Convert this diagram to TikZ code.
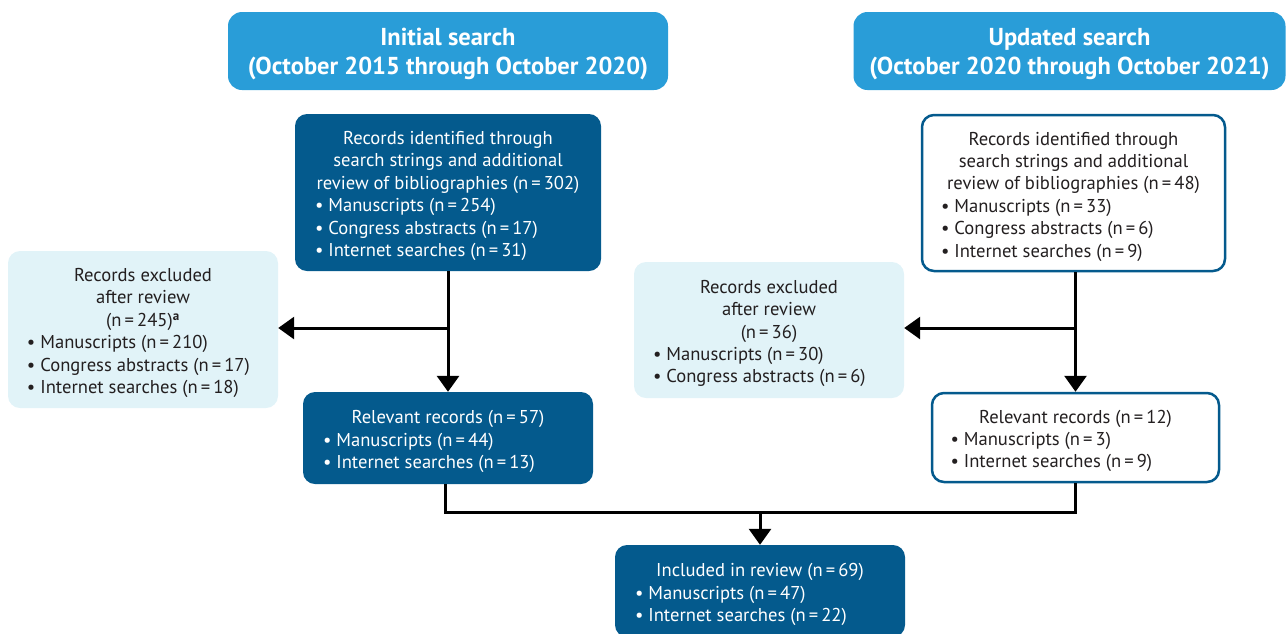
\documentclass[tikz,border=0pt]{standalone}
\usepackage{fontspec}
\setmainfont{PT Sans}
\usetikzlibrary{arrows.meta}
\definecolor{hdrblue}{HTML}{299DD8}
\definecolor{darkblue}{HTML}{045A8D}
\definecolor{paleblue}{HTML}{E1F3F8}
\definecolor{inkgray}{HTML}{231F20}
\tikzset{
  box/.style={rounded corners=12pt, inner sep=0pt, align=left,
    font=\fontsize{18.6}{22.4}\selectfont},
  darkbox/.style={box, fill=darkblue, text=white},
  palebox/.style={box, fill=paleblue, text=inkgray},
  linebox/.style={box, fill=white, draw=darkblue, line width=2.5pt, text=inkgray},
  hdrbox/.style={rounded corners=14pt, fill=hdrblue, text=white, inner sep=0pt,
    font=\fontsize{24.5}{29}\selectfont\bfseries},
  arr/.style={line width=3pt, -{Triangle[width=22pt,length=16pt]}},
  link/.style={line width=3pt}
}
% heading centred, bullets flush left
\newcommand{\boxtext}[3]{\begin{minipage}{#1}\vspace*{7pt}{\centering #2\par}\raggedright #3\end{minipage}}
\newcommand{\hdrtext}[1]{\begin{minipage}{420pt}\vspace*{6pt}\centering #1\end{minipage}}
\newcommand{\itm}[1]{\mbox{\textbullet~#1}}
\begin{document}
\begin{tikzpicture}[x=1pt,y=1pt]
\useasboundingbox (0,0) rectangle (1286,-633);

\node[hdrbox, minimum width=440pt, minimum height=78pt] (hdrL) at (448,-51)
  {\hdrtext{Initial search\\(October 2015 through October 2020)}};
\node[hdrbox, minimum width=432pt, minimum height=78pt] (hdrR) at (1069.5,-51)
  {\hdrtext{Updated search\\(October 2020 through October 2021)}};

\node[darkbox, minimum width=306pt, minimum height=157pt] (recL) at (448,-192.5)
  {\boxtext{266pt}{Records identified through\\search strings and additional\\review of bibliographies (n\,=\,302)}
  {\itm{Manuscripts (n\,=\,254)}\\\itm{Congress abstracts (n\,=\,17)}\\\itm{Internet searches (n\,=\,31)}}};
\node[linebox, minimum width=303pt, minimum height=156pt] (recR) at (1073.5,-193)
  {\boxtext{265pt}{Records identified through\\search strings and additional\\review of bibliographies (n\,=\,48)}
  {\itm{Manuscripts (n\,=\,33)}\\\itm{Congress abstracts (n\,=\,6)}\\\itm{Internet searches (n\,=\,9)}}};

\node[palebox, minimum width=270pt, minimum height=157pt] (exL) at (143,-329.5)
  {\boxtext{232pt}{Records excluded\\after review\\(n\,=\,245)\textsuperscript{\bfseries a}}
  {\itm{Manuscripts (n\,=\,210)}\\\itm{Congress abstracts (n\,=\,17)}\\\itm{Internet searches (n\,=\,18)}}};
\node[palebox, minimum width=270pt, minimum height=136pt] (exR) at (769,-330)
  {\boxtext{232pt}{Records excluded\\after review\\(n\,=\,36)}
  {\itm{Manuscripts (n\,=\,30)}\\\itm{Congress abstracts (n\,=\,6)}}};

\node[darkbox, minimum width=290pt, minimum height=92pt] (relL) at (448,-438)
  {\boxtext{250pt}{Relevant records (n\,=\,57)}
  {\itm{Manuscripts (n\,=\,44)}\\\itm{Internet searches (n\,=\,13)}}};
\node[linebox, minimum width=287pt, minimum height=89pt] (relR) at (1075.5,-437.5)
  {\boxtext{250pt}{Relevant records (n\,=\,12)}
  {\itm{Manuscripts (n\,=\,3)}\\\itm{Internet searches (n\,=\,9)}}};

\node[darkbox, minimum width=290pt, minimum height=92pt] (inc) at (760,-591)
  {\boxtext{250pt}{Included in review (n\,=\,69)}
  {\itm{Manuscripts (n\,=\,47)}\\\itm{Internet searches (n\,=\,22)}}};

% connectors
\coordinate (brL) at (448,-328);
\coordinate (brR) at (1075.5,-328);
\coordinate (joinL) at (445,-512);
\coordinate (joinR) at (1075.5,-512);
\coordinate (joinM) at (760,-512);

\draw[arr] (recL.south) -- (relL.north);
\draw[arr] (brL) -- (exL.east |- brL);
\draw[arr] (relR.north |- recR.south) -- (relR.north);
\draw[arr] (brR) -- (exR.east |- brR);
\draw[link] (joinL |- relL.south) -- (joinL) -- (joinR) -- (relR.south);
\draw[arr] (joinM) -- (inc.north);
\end{tikzpicture}
\end{document}
